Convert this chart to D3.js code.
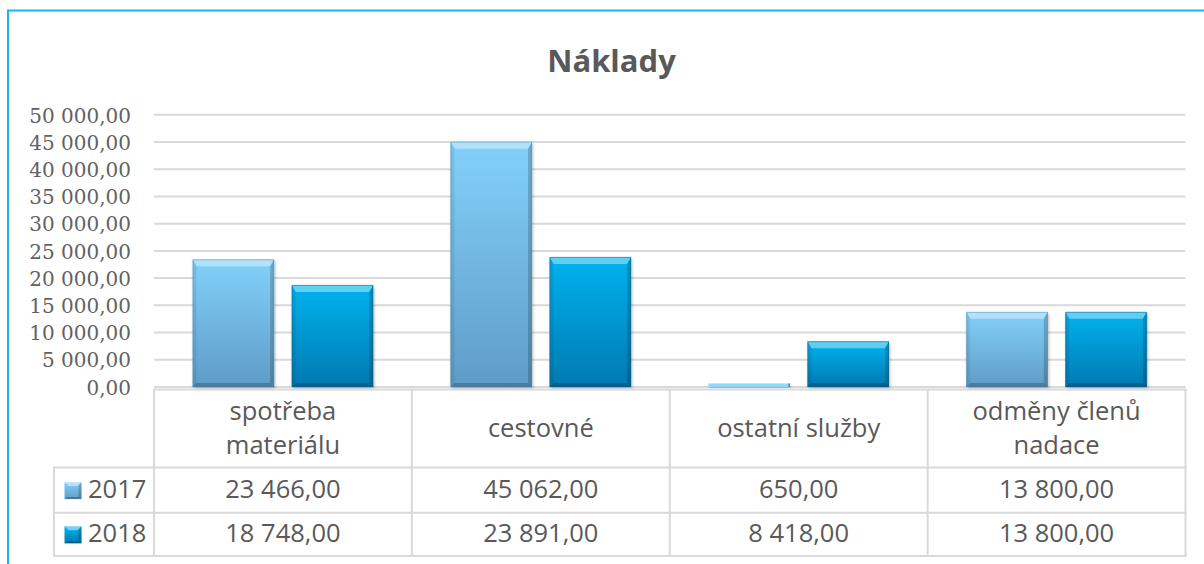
<!DOCTYPE html>
<html><head><meta charset="utf-8">
<script src="https://cdn.jsdelivr.net/npm/d3@7"></script>
<style>
html,body{margin:0;padding:0;background:#fff;}
svg{display:block;}
</style></head>
<body>
<svg id="chart" width="1204" height="564"></svg>
<script>
const title = "Náklady";
const categories = ["spotřeba materiálu", "cestovné", "ostatní služby", "odměny členů nadace"];
const seriesNames = ["2017", "2018"];
const values2017 = [23466, 45062, 650, 13800];
const values2018 = [18748, 23891, 8418, 13800];
const yTicks = [0, 5000, 10000, 15000, 20000, 25000, 30000, 35000, 40000, 45000, 50000];

const seriesValues = [values2017, values2018];
const colors = [
  {top: "#82d1fa", bottom: "#5f9cc8", edge: "#4d84ad"},
  {top: "#00b3ef", bottom: "#0079b1", edge: "#00618f"}
];

const loc = d3.formatLocale({decimal: ",", thousands: " ", grouping: [3], currency: ["", ""]});
const fmt = loc.format(",.2f");

const svg = d3.select("#chart");
const W = 1204, H = 564;
svg.append("rect").attr("width", W).attr("height", H).attr("fill", "#fff");

const defs = svg.append("defs");
colors.forEach((c, i) => {
  const g = defs.append("linearGradient").attr("id", "grad" + i)
    .attr("x1", 0).attr("y1", 0).attr("x2", 0).attr("y2", 1);
  g.append("stop").attr("offset", "0%").attr("stop-color", c.top);
  g.append("stop").attr("offset", "100%").attr("stop-color", c.bottom);
});
const f = defs.append("filter").attr("id", "shadow").attr("x", "-10%").attr("y", "-10%").attr("width", "130%").attr("height", "130%");
f.append("feDropShadow").attr("dx", 1).attr("dy", 2).attr("stdDeviation", 1.5)
  .attr("flood-color", "#000").attr("flood-opacity", 0.28);

// frame
const frameColor = "#1fb1ed";
svg.append("line").attr("x1", 7).attr("x2", W).attr("y1", 10.5).attr("y2", 10.5)
  .attr("stroke", frameColor).attr("stroke-width", 2);
svg.append("line").attr("x1", 8).attr("x2", 8).attr("y1", 10).attr("y2", H)
  .attr("stroke", frameColor).attr("stroke-width", 2);

// title
svg.append("text").attr("x", 611.5).attr("y", 72).attr("text-anchor", "middle")
  .attr("font-family", "'Open Sans', sans-serif").attr("font-weight", 700)
  .attr("font-size", 31).attr("fill", "#595959").text(title);

const plotLeft = 154, plotRight = 1185.5;
const y = d3.scaleLinear().domain([0, 50000]).range([387, 114.8]);
const x = d3.scaleBand().domain(categories).range([plotLeft, plotRight]).padding(0);
const xs = d3.scaleBand().domain(seriesNames).range([0, x.bandwidth()])
  .paddingInner(0.177).paddingOuter(0.39);

// gridlines
svg.append("g").selectAll("line").data(yTicks).join("line")
  .attr("x1", plotLeft).attr("x2", plotRight)
  .attr("y1", d => y(d)).attr("y2", d => y(d))
  .attr("stroke", "#d9d9d9").attr("stroke-width", 2);

// y axis labels
const yAxis = d3.axisLeft(y).tickValues(yTicks).tickFormat(fmt).tickSize(0).tickPadding(0);
const ya = svg.append("g").attr("transform", "translate(131,0)").call(yAxis);
ya.select(".domain").remove();
ya.selectAll("text").attr("font-family", "'DejaVu Serif', serif").attr("font-size", 20)
  .attr("fill", "#626262").attr("dy", "0.36em");

// bars
const barData = [];
categories.forEach((c, ci) => {
  seriesNames.forEach((s, si) => {
    barData.push({cat: c, ser: s, si: si, v: seriesValues[si][ci]});
  });
});

function bevelBar(g, x0, y0, w, h, si) {
  const c = colors[si];
  const pts = (arr) => arr.map(p => p.join(",")).join(" ");
  if (h < 8) {
    g.append("rect").attr("x", x0).attr("y", y0).attr("width", w).attr("height", h)
      .attr("fill", "#8ed8fa").attr("filter", "url(#shadow)");
    g.append("rect").attr("x", x0 + w - 1.5).attr("y", y0).attr("width", 1.5).attr("height", h)
      .attr("fill", c.edge);
    return;
  }
  const bt = Math.min(7, h / 2), bs = Math.min(4, w / 2), bb = Math.min(4, h / 2);
  g.append("rect").attr("x", x0).attr("y", y0).attr("width", w).attr("height", h)
    .attr("fill", `url(#grad${si})`).attr("filter", "url(#shadow)");
  const ix0 = x0 + bs, ix1 = x0 + w - bs, iy0 = y0 + bt, iy1 = y0 + h - bb;
  g.append("polygon").attr("points", pts([[x0, y0], [x0 + w, y0], [ix1, iy0], [ix0, iy0]]))
    .attr("fill", "#fff").attr("opacity", 0.38);
  g.append("polygon").attr("points", pts([[x0, y0], [ix0, iy0], [ix0, iy1], [x0, y0 + h]]))
    .attr("fill", "#000").attr("opacity", 0.07);
  g.append("polygon").attr("points", pts([[x0 + w, y0], [ix1, iy0], [ix1, iy1], [x0 + w, y0 + h]]))
    .attr("fill", "#000").attr("opacity", 0.18);
  g.append("polygon").attr("points", pts([[x0, y0 + h], [ix0, iy1], [ix1, iy1], [x0 + w, y0 + h]]))
    .attr("fill", "#000").attr("opacity", 0.22);
  g.append("rect").attr("x", x0 + 0.5).attr("y", y0 + 0.5).attr("width", Math.max(0, w - 1)).attr("height", Math.max(0, h - 1))
    .attr("fill", "none").attr("stroke", c.edge).attr("stroke-opacity", 0.45).attr("stroke-width", 1);
}

const barsG = svg.append("g");
barData.forEach(d => {
  const x0 = x(d.cat) + xs(d.ser);
  const y0 = y(d.v);
  const h = y(0) - y0;
  bevelBar(barsG.append("g"), x0, y0, xs.bandwidth(), h, d.si);
});

// data table
const tblTop = 389.5, hdrBottom = 467.5, row1Bottom = 512.7, tblBottom = 556;
const legLeft = 54;
const lineColor = "#d9d9d9";
const tg = svg.append("g");
const hl = (x1, x2, yy) => tg.append("line").attr("x1", x1).attr("x2", x2).attr("y1", yy).attr("y2", yy)
  .attr("stroke", lineColor).attr("stroke-width", 2);
const vl = (xx, y1, y2) => tg.append("line").attr("x1", xx).attr("x2", xx).attr("y1", y1).attr("y2", y2)
  .attr("stroke", lineColor).attr("stroke-width", 2);
hl(plotLeft - 1, plotRight + 1, tblTop);
hl(legLeft - 1, plotRight + 1, hdrBottom);
hl(legLeft - 1, plotRight + 1, row1Bottom);
hl(legLeft - 1, plotRight + 1, tblBottom);
vl(legLeft, hdrBottom, tblBottom);
categories.forEach(c => vl(x(c), tblTop, tblBottom));
vl(plotRight, tblTop, tblBottom);

const txtFont = "'Open Sans', sans-serif", txtSize = 25.5, txtColor = "#595959";

// header labels with wrapping
categories.forEach(c => {
  const cx = x(c) + x.bandwidth() / 2;
  const t = tg.append("text").attr("text-anchor", "middle").attr("font-family", txtFont)
    .attr("font-size", txtSize).attr("fill", txtColor);
  const words = c.split(" ");
  const lines = [];
  let cur = [];
  const probe = tg.append("text").attr("font-family", txtFont).attr("font-size", txtSize);
  words.forEach(w => {
    const test = cur.concat([w]).join(" ");
    probe.text(test);
    if (probe.node().getComputedTextLength() > 205 && cur.length) {
      lines.push(cur.join(" "));
      cur = [w];
    } else cur.push(w);
  });
  lines.push(cur.join(" "));
  probe.remove();
  const lh = 34;
  const mid = (tblTop + hdrBottom) / 2;
  lines.forEach((ln, i) => {
    t.append("tspan").attr("x", cx)
      .attr("y", mid + (i - (lines.length - 1) / 2) * lh + 8).text(ln);
  });
});

// value rows
const rowMids = [(hdrBottom + row1Bottom) / 2, (row1Bottom + tblBottom) / 2];
seriesNames.forEach((s, si) => {
  const ym = rowMids[si];
  // legend key
  const kg = tg.append("g");
  const k = 17;
  const kx = 64.5, ky = ym - k / 2 + 0.5;
  kg.append("rect").attr("x", kx).attr("y", ky).attr("width", k).attr("height", k)
    .attr("fill", `url(#grad${si})`);
  const pts = (arr) => arr.map(p => p.join(",")).join(" ");
  kg.append("polygon").attr("points", pts([[kx, ky], [kx + k, ky], [kx + k - 4, ky + 4], [kx + 4, ky + 4]]))
    .attr("fill", "#fff").attr("opacity", 0.45);
  kg.append("polygon").attr("points", pts([[kx + k, ky], [kx + k - 3, ky + 4], [kx + k - 3, ky + k - 2], [kx + k, ky + k]]))
    .attr("fill", "#000").attr("opacity", 0.2);
  kg.append("polygon").attr("points", pts([[kx, ky + k], [kx + 3, ky + k - 2], [kx + k - 3, ky + k - 2], [kx + k, ky + k]]))
    .attr("fill", "#000").attr("opacity", 0.25);
  tg.append("text").attr("x", 88).attr("y", ym + 8).attr("font-family", txtFont)
    .attr("font-size", txtSize).attr("fill", txtColor).text(s);
  categories.forEach((c, ci) => {
    tg.append("text").attr("x", x(c) + x.bandwidth() / 2).attr("y", ym + 8)
      .attr("text-anchor", "middle").attr("font-family", txtFont)
      .attr("font-size", txtSize).attr("fill", txtColor).text(fmt(seriesValues[si][ci]));
  });
});
</script>
</body></html>
